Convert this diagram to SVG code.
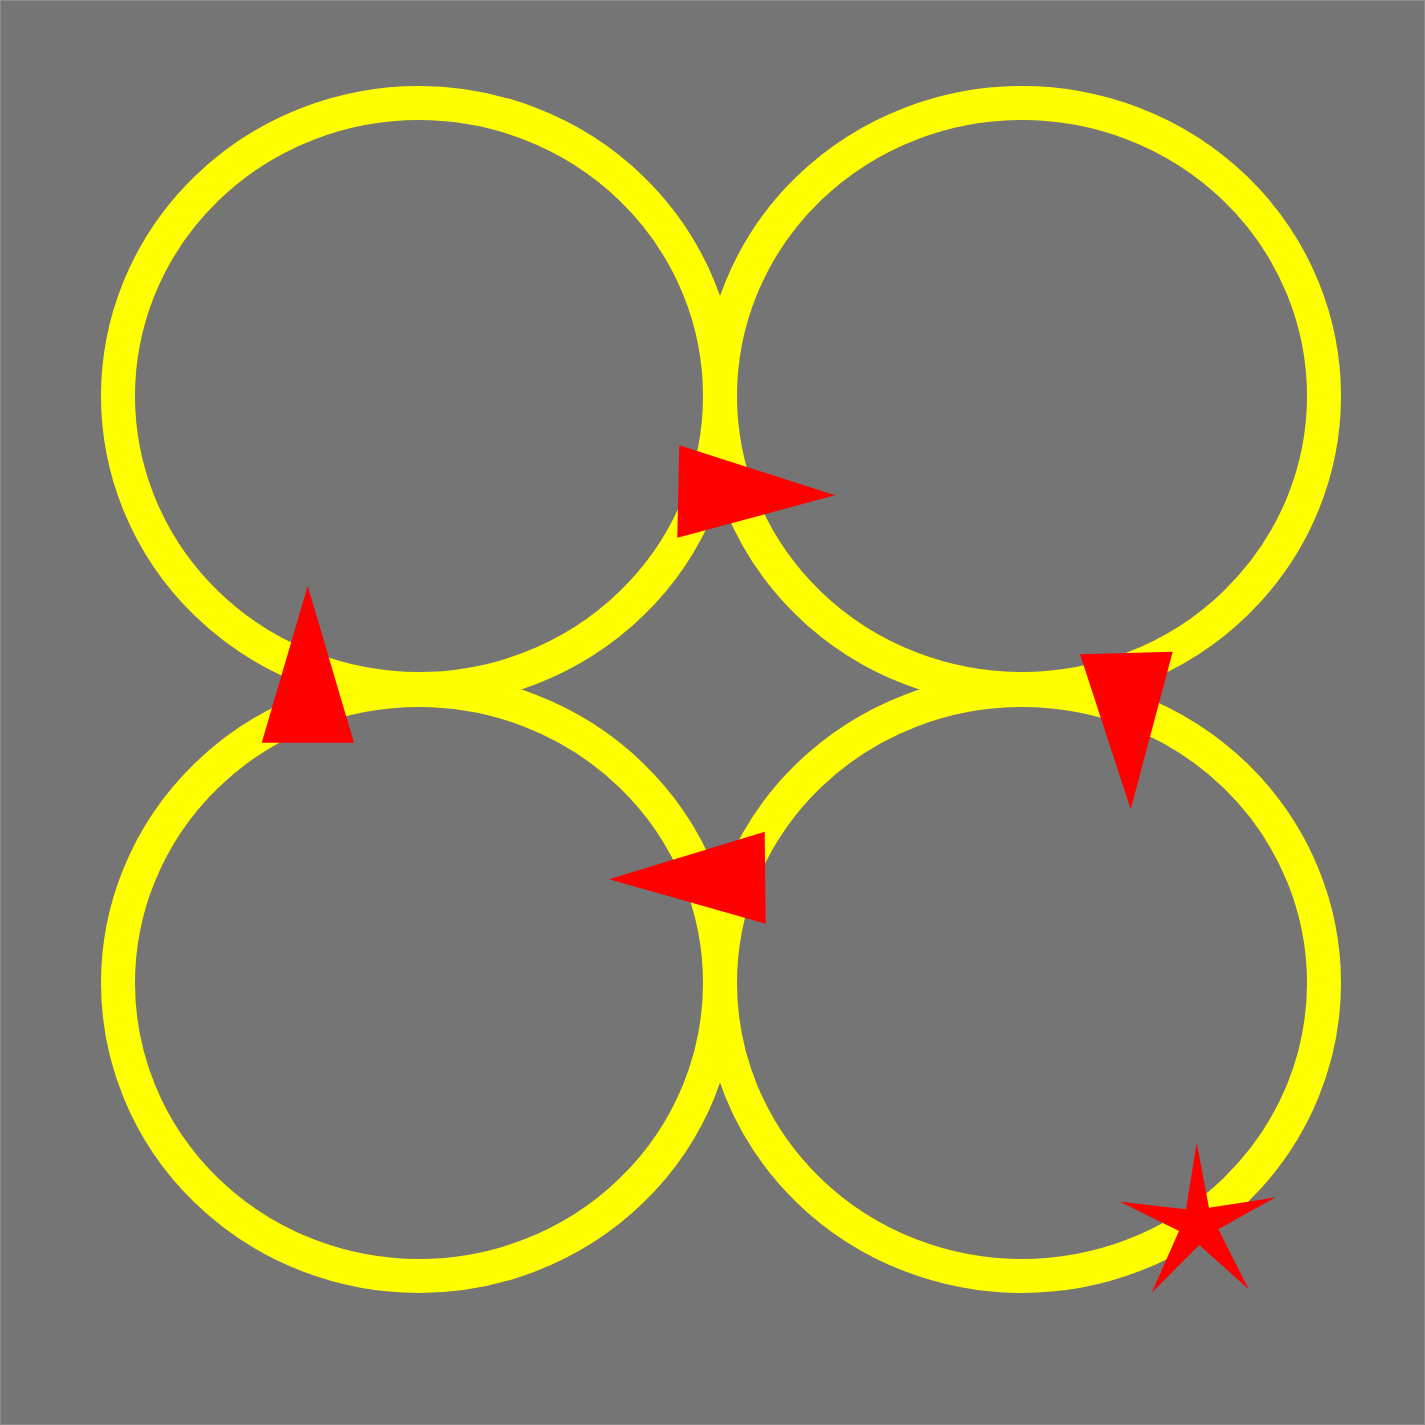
<svg xmlns="http://www.w3.org/2000/svg" width="1425" height="1425" viewBox="0 0 1425 1425">
<style>
.ring{fill:none;stroke:#ffff00;stroke-width:34}
.mark{fill:#ff0000}
</style>
<rect x="0.5" y="0.5" width="1424" height="1424" fill="#757575" stroke="#8c8c8c" stroke-width="1"/>
<g id="rings">
<ellipse id="ring-tl" class="ring" cx="419" cy="396" rx="301" ry="293"/>
<ellipse id="ring-tr" class="ring" cx="1022" cy="396" rx="302" ry="293"/>
<ellipse id="ring-bl" class="ring" cx="419" cy="983" rx="301" ry="293"/>
<ellipse id="ring-br" class="ring" cx="1022" cy="983" rx="302" ry="293"/>
</g>
<g id="arrows">
<polygon id="arrow-right" class="mark" points="679.3,445.3 677.3,537.7 835,495.3"/>
<polygon id="arrow-up" class="mark" points="307.7,586 261.7,742.7 354,742.7"/>
<polygon id="arrow-down" class="mark" points="1080,654.3 1172.7,651.7 1130.7,809.3"/>
<polygon id="arrow-left" class="mark" points="609,879.3 764.7,831.7 765.7,923.7"/>
</g>
<g id="star">
<polygon class="mark" points="1196.7,1142.7 1209,1207.7 1275.7,1197.3 1218.3,1229.3 1248.7,1289.3 1199.3,1245 1151.7,1292.7 1179,1231 1120,1201.7 1186,1209.3"/>
</g>
</svg>
